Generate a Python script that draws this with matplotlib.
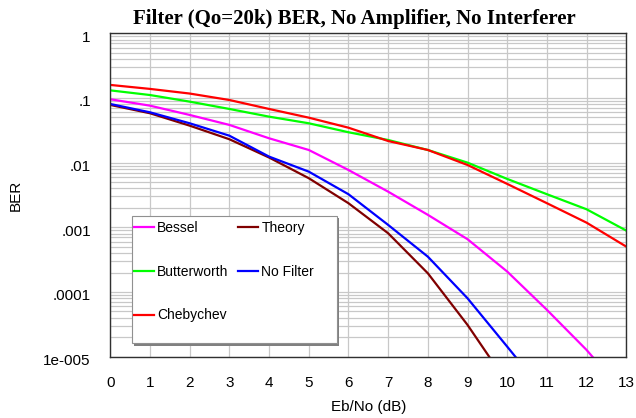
import numpy as np
import matplotlib
matplotlib.use("Agg")
from matplotlib import pyplot as plt
from matplotlib.patches import Rectangle
from matplotlib.transforms import ScaledTranslation
from matplotlib.ticker import FixedLocator, FixedFormatter, LogLocator, NullFormatter

# Eb/No in dB
ebno = [0, 1, 2, 3, 4, 5, 6, 7, 8, 9, 10, 11, 12, 13]

bessel = [0.0955, 0.076, 0.0546, 0.0383, 0.0238, 0.0157, 0.0077, 0.00356,
          0.00156, 0.000655, 0.000207, 5.3e-5, 1.27e-5, 2.5e-6]
butterworth = [0.131, 0.111, 0.0877, 0.0676, 0.0514, 0.0406, 0.0295, 0.0224,
               0.0157, 0.0100, 0.0056, 0.00325, 0.0019, 0.00089]
chebychev = [0.159, 0.138, 0.117, 0.093, 0.0676, 0.0496, 0.0347, 0.0216,
             0.0157, 0.0092, 0.00469, 0.00236, 0.00118, 0.000503]
theory = [0.078, 0.058, 0.0373, 0.023, 0.012, 0.00575, 0.00236, 0.00081,
          0.000195, 3.1e-5, 3.9e-6]
no_filter = [0.0807, 0.060, 0.0406, 0.0261, 0.0124, 0.00726, 0.00325,
             0.00109, 0.000352, 8.0e-5, 1.43e-5, 2.5e-6]

ytick_vals = [1, 0.1, 0.01, 0.001, 0.0001, 1e-5]
ytick_labels = ["1", ".1", ".01", ".001", ".0001", "1e-005"]
xtick_vals = list(range(0, 14))

title = "Filter (Qo=20k) BER, No Amplifier, No Interferer"

plt.rcParams['font.family'] = ['Liberation Sans', 'DejaVu Sans']

fig = plt.figure(figsize=(6.36, 4.18), dpi=100)
ax = fig.add_axes([0.1734, 0.1467, 0.8113, 0.7737])

ax.set_yscale('log')
ax.set_xlim(0, 13)
ax.set_ylim(1e-5, 1)

lw = 1.6
ax.plot(ebno, bessel, color='#ff00ff', lw=lw, label='Bessel')
ax.plot(ebno, butterworth, color='#00ff00', lw=lw, label='Butterworth')
ax.plot(ebno, chebychev, color='#ff0000', lw=lw, label='Chebychev')
ax.plot(ebno[:len(theory)], theory, color='#800000', lw=lw, label='Theory')
ax.plot(ebno[:len(no_filter)], no_filter, color='#0000ff', lw=lw, label='No Filter')

ax.xaxis.set_major_locator(FixedLocator(xtick_vals))
ax.yaxis.set_major_locator(FixedLocator(ytick_vals))
ax.yaxis.set_major_formatter(FixedFormatter(ytick_labels))
ax.yaxis.set_minor_locator(LogLocator(base=10, subs=np.arange(2, 10)))
ax.yaxis.set_minor_formatter(NullFormatter())

ax.grid(True, which='major', axis='both', color='#c8c8c8', lw=0.9)
ax.grid(True, which='minor', axis='y', color='#c8c8c8', lw=0.9)
ax.set_axisbelow(True)

ax.tick_params(axis='both', which='both', length=0, labelsize=11)
ax.tick_params(axis='y', pad=14)
ax.tick_params(axis='x', pad=14)

# y labels sit a little below their grid lines in the original
shift = ScaledTranslation(0, -0.03, fig.dpi_scale_trans)
for lab in ax.get_yticklabels():
    lab.set_transform(lab.get_transform() + shift)

for s in ax.spines.values():
    s.set_color('#303030')
    s.set_linewidth(1.0)

ax.set_xlabel("Eb/No (dB)", fontsize=11, labelpad=7)
ax.set_ylabel("BER", fontsize=11, labelpad=15)

fig.text(0.557, 0.954, title, ha='center', va='center',
         family='Liberation Serif', fontweight='bold', fontsize=15)

# legend box with drop shadow (drawn by hand, it is wider than its content)
bx0, by0, bw, bh = 0.0415, 0.0414, 0.3973, 0.3946
ax.add_patch(Rectangle((bx0 + 0.0052, by0 - 0.0083), bw, bh, transform=ax.transAxes,
                       facecolor='#808080', edgecolor='none', zorder=4.4))
ax.add_patch(Rectangle((bx0, by0), bw, bh, transform=ax.transAxes,
                       facecolor='white', edgecolor='#909090', lw=0.8, zorder=4.5))

leg = ax.legend(loc='upper left', bbox_to_anchor=(0.0465, 0.4196), ncol=2,
                fontsize=10, frameon=False,
                labelspacing=2.14, handlelength=1.44, handletextpad=0.22,
                columnspacing=0.69, borderpad=0, borderaxespad=0)
leg.set_zorder(5)

fig.savefig("out.png", dpi=100)
